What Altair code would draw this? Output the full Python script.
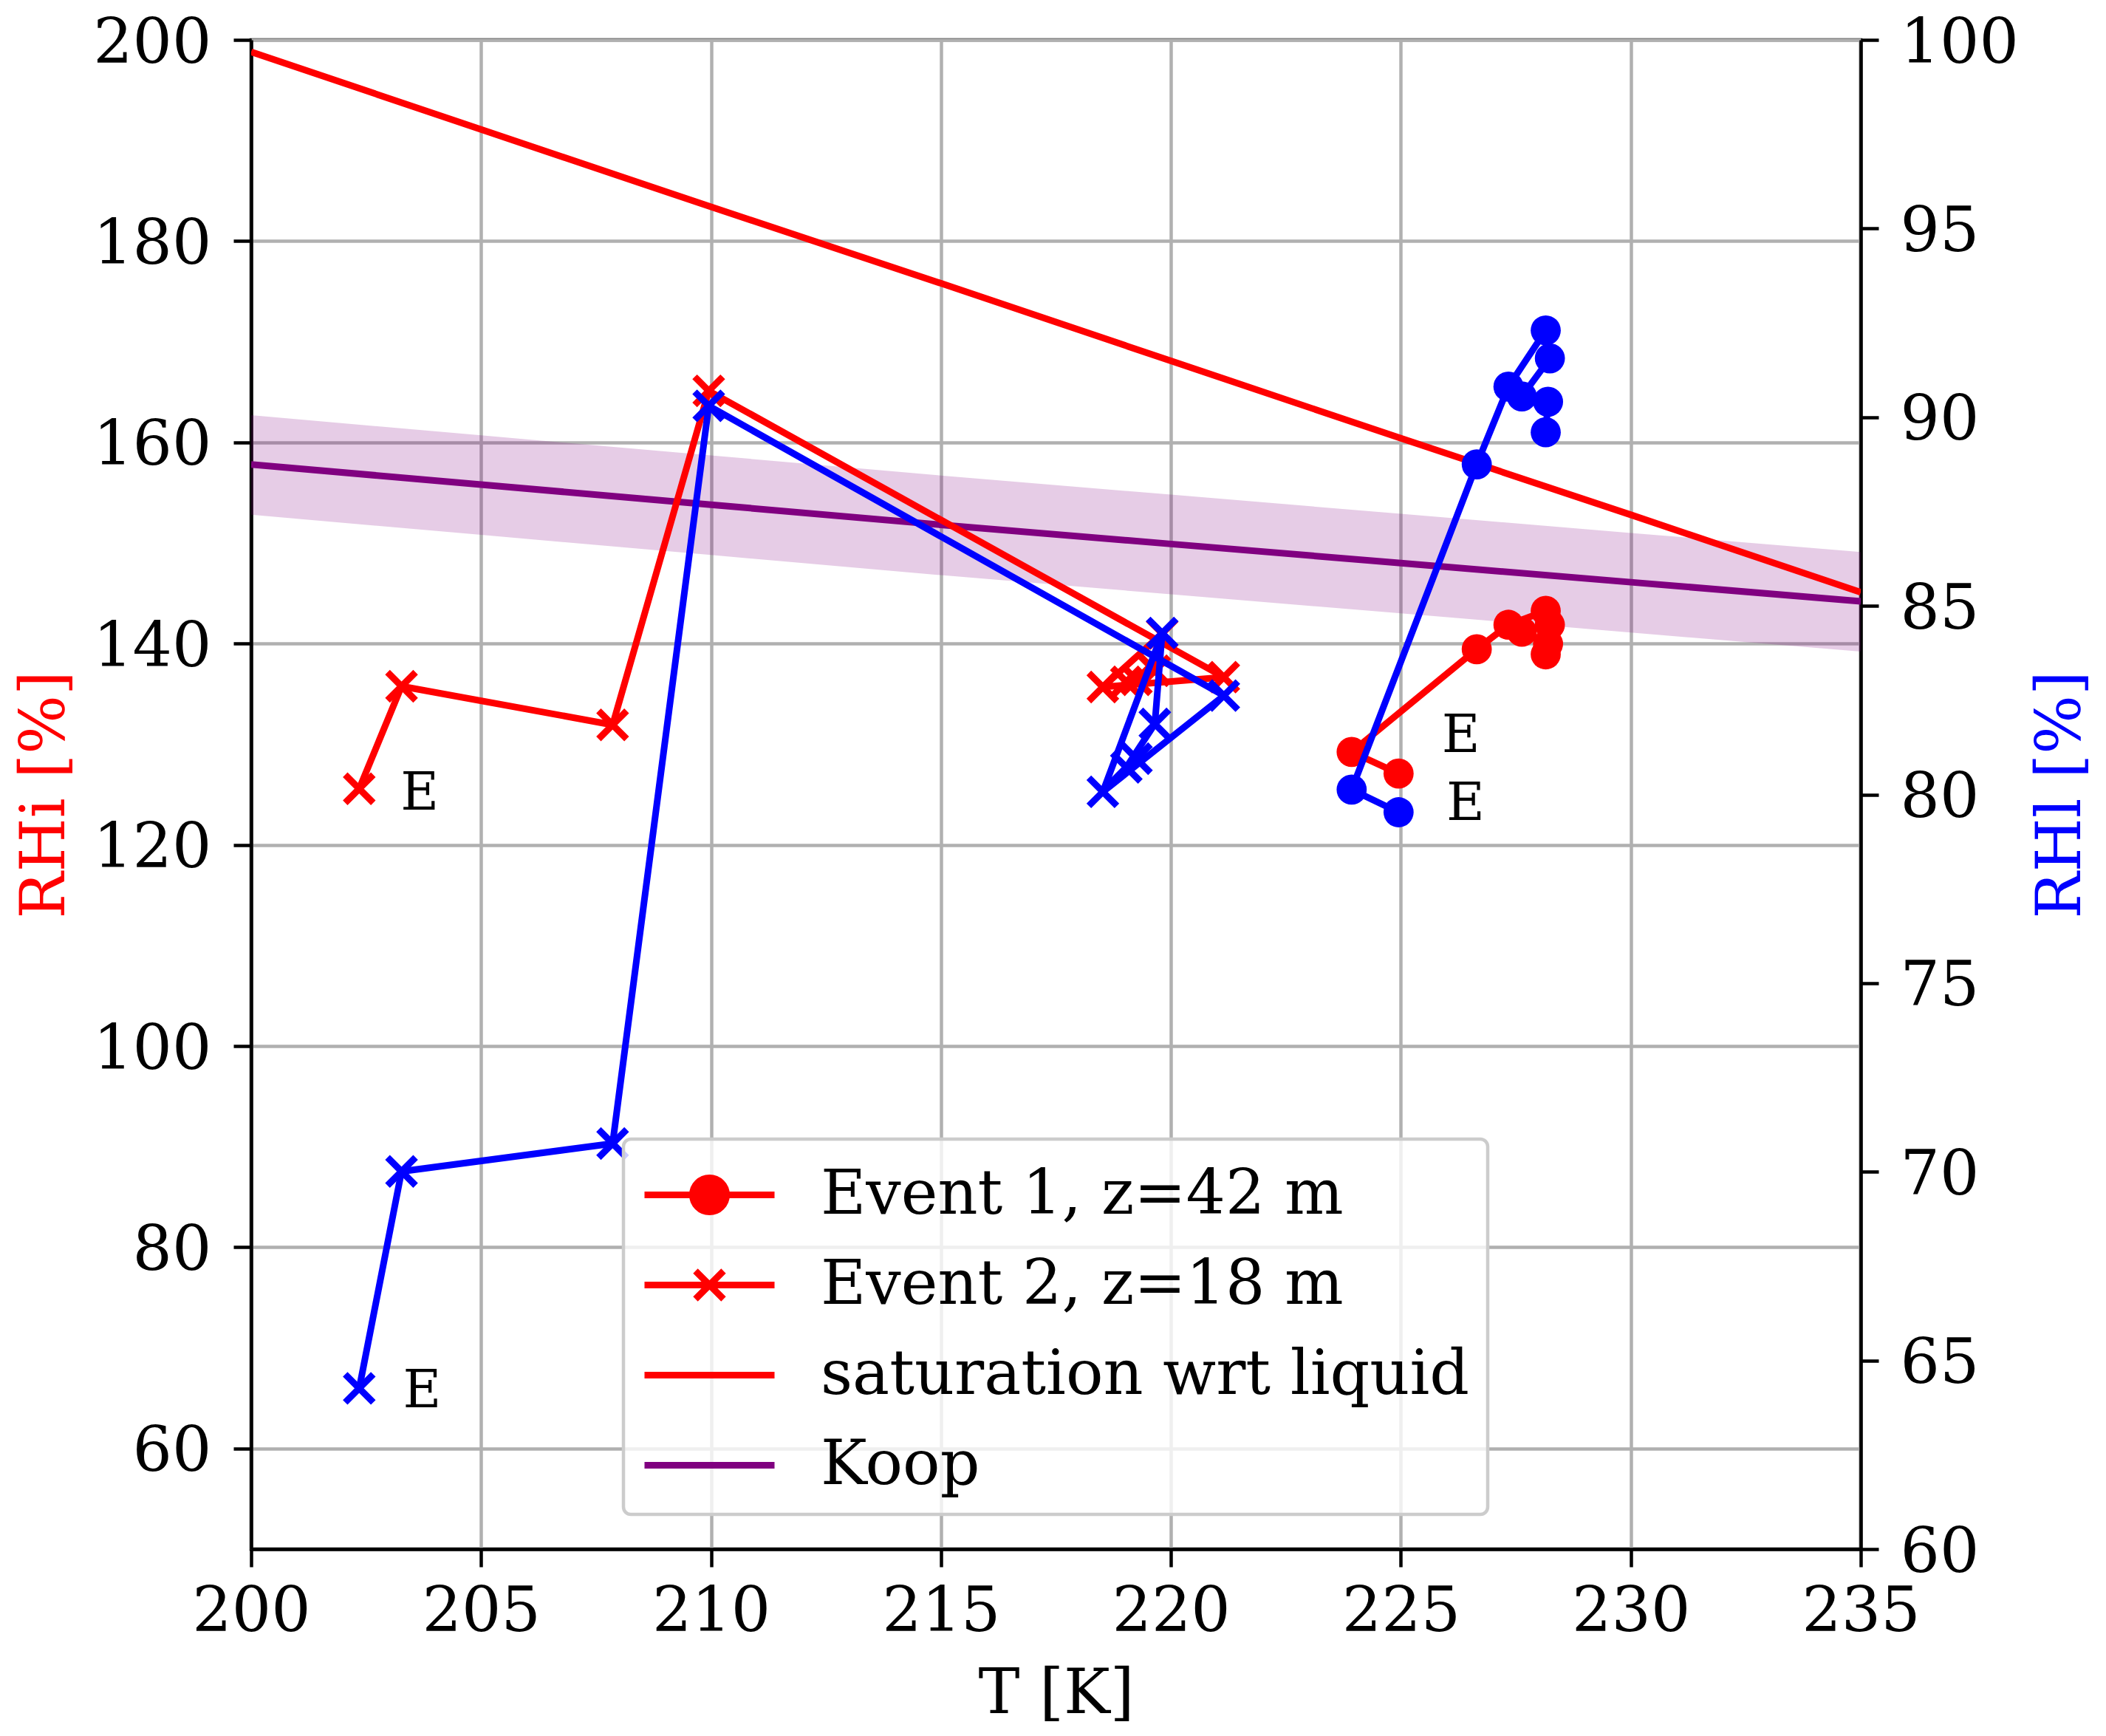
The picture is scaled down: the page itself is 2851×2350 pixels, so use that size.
import altair as alt
import pandas as pd

# ---------------- data ----------------
# Event 1 (z = 42 m), ordered along the path (first point is the one marked "E")
ev1_T = [224.95, 223.93, 226.65, 227.34, 228.15, 228.24, 227.63, 228.20, 228.15]
ev1_RHi = [127.08, 129.23, 139.44, 141.87, 143.25, 141.87, 141.18, 139.97, 138.93]
ev1_RHl = [79.53, 80.13, 88.75, 90.81, 92.30, 91.56, 90.55, 90.41, 89.60]

# Event 2 (z = 18 m)
ev2_T = [202.35, 203.27, 207.86, 209.95, 221.15, 218.52, 219.81, 219.65, 219.03, 219.25]
ev2_RHi = [125.57, 135.76, 131.92, 165.12, 136.66, 135.68, 141.0, 137.3, 136.2, 136.4]
ev2_RHl = [64.26, 70.01, 70.75, 90.30, 82.62, 80.07, 84.28, 81.87, 80.72, 80.95]

# saturation with respect to liquid water (in RHi)
sat_T = [200, 205, 210, 215, 220, 225, 230, 235]
sat_RHi = [198.8, 191.1, 183.4, 175.8, 168.1, 160.4, 152.8, 145.1]

# Koop line with its shaded band
koop_T = [200, 205, 210, 215, 220, 225, 230, 235]
koop_RHi = [157.8, 155.8, 153.8, 151.8, 149.9, 148.0, 146.1, 144.2]
koop_hi = [162.7, 160.7, 158.7, 156.7, 154.8, 152.9, 151.0, 149.1]
koop_lo = [152.8, 150.8, 148.8, 146.8, 144.9, 143.0, 141.1, 139.2]

# "E" annotations
eL_T = [203.25, 225.89]
eL_RHi = [123.5, 129.2]
eR_T = [203.30, 225.99]
eR_RHl = [63.76, 79.33]
e_text = ["E", "E"]

# tick values
x_ticks = [200, 205, 210, 215, 220, 225, 230, 235]
yl_ticks = [60, 80, 100, 120, 140, 160, 180, 200]
yr_ticks = [60, 65, 70, 75, 80, 85, 90, 95, 100]

legend_labels = ["Event 1, z=42 m", "Event 2, z=18 m", "saturation wrt liquid", "Koop"]

# ---------------- styling ----------------
FONT = "DejaVu Serif"
RED = "#ff0000"
BLUE = "#0000ff"
PURPLE = "#800080"
LW = 9
XPATH = "M-1,-1L1,1M-1,1L1,-1"

legend_colors = [RED, RED, RED, PURPLE]
# legend symbol paths (unit = 47 px); line runs from -1 to 2.745, marker centred at 0.872
legend_paths = [
    "M-1,0L2.745,0M1.361,0A0.489,0.489,0,1,1,0.383,0A0.489,0.489,0,1,1,1.361,0Z",
    "M-1,0L2.745,0M0.468,-0.404L1.276,0.404M0.468,0.404L1.276,-0.404",
    "M-1,0L2.745,0",
    "M-1,0L2.745,0",
]

ev1 = pd.DataFrame({"i": range(len(ev1_T)), "T": ev1_T, "RHi": ev1_RHi, "RHl": ev1_RHl})
ev2 = pd.DataFrame({"i": range(len(ev2_T)), "T": ev2_T, "RHi": ev2_RHi, "RHl": ev2_RHl})
sat = pd.DataFrame({"T": sat_T, "RHi": sat_RHi})
koop = pd.DataFrame({"T": koop_T, "RHi": koop_RHi, "lo": koop_lo, "hi": koop_hi})
eL = pd.DataFrame({"T": eL_T, "RHi": eL_RHi, "t": e_text})
eR = pd.DataFrame({"T": eR_T, "RHl": eR_RHl, "t": e_text})
leg = pd.DataFrame({"label": legend_labels, "T": [ev1_T[0]] * 4, "RHi": [ev1_RHi[0]] * 4})

x_enc = alt.X(
    "T:Q",
    scale=alt.Scale(domain=[200, 235], nice=False, zero=False),
    axis=alt.Axis(values=x_ticks, title="T [K]", titleY=221, titleBaseline="alphabetic",
                  labelPadding=20, grid=True, format="d"),
)
yl_scale = alt.Scale(domain=[50, 200], nice=False, zero=False)
yl_axis = alt.Axis(values=yl_ticks, title="RHi [%]", titleColor=RED, orient="left",
                   titleX=-254, titleAngle=270, titleBaseline="alphabetic",
                   grid=True, labelPadding=30, labelBaseline="alphabetic", labelOffset=30, format="d")
yr_scale = alt.Scale(domain=[60, 100], nice=False, zero=False)
yr_axis = alt.Axis(values=yr_ticks, title="RHl [%]", titleColor=BLUE, orient="right",
                   titleX=296, titleAngle=270, titleBaseline="alphabetic",
                   grid=False, labelPadding=29, labelBaseline="alphabetic", labelOffset=30, format="d")

yl = alt.Y("RHi:Q", scale=yl_scale, axis=yl_axis)
yr = alt.Y("RHl:Q", scale=yr_scale, axis=yr_axis)

band = alt.Chart(koop).mark_area(color=PURPLE, opacity=0.2, clip=True).encode(
    x=x_enc, y=alt.Y("lo:Q", scale=yl_scale, axis=yl_axis), y2="hi:Q")
koop_line = alt.Chart(koop).mark_line(color=PURPLE, strokeWidth=LW, clip=True).encode(x=x_enc, y=yl)
sat_line = alt.Chart(sat).mark_line(color=RED, strokeWidth=LW, clip=True).encode(x=x_enc, y=yl)


def path_layers(df, y, color, shape, size, filled):
    line = alt.Chart(df).mark_line(color=color, strokeWidth=LW, strokeJoin="round").encode(
        x=x_enc, y=y, order="i:Q")
    if filled:
        pts = alt.Chart(df).mark_point(shape=shape, filled=True, size=size, color=color, opacity=1).encode(
            x=x_enc, y=y)
    else:
        pts = alt.Chart(df).mark_point(shape=shape, filled=False, size=size, color=color, opacity=1,
                                       strokeWidth=LW).encode(x=x_enc, y=y)
    return [line, pts]


red_layers = path_layers(ev1, yl, RED, "circle", 1662, True) + path_layers(ev2, yl, RED, XPATH, 1444, False)
blue_layers = path_layers(ev1, yr, BLUE, "circle", 1662, True) + path_layers(ev2, yr, BLUE, XPATH, 1444, False)

eL_text = alt.Chart(eL).mark_text(font=FONT, fontSize=71, color="black", align="left",
                                  baseline="alphabetic").encode(x=x_enc, y=yl, text="t:N")
eR_text = alt.Chart(eR).mark_text(font=FONT, fontSize=71, color="black", align="left",
                                  baseline="alphabetic").encode(x=x_enc, y=yr, text="t:N")

legend_def = alt.Legend(title=None, orient="none", legendX=504, legendY=1488, symbolOpacity=1)
legend_layer = alt.Chart(leg).mark_point(opacity=0, strokeWidth=LW).encode(
    x=x_enc, y=yl,
    shape=alt.Shape("label:N", scale=alt.Scale(domain=legend_labels, range=legend_paths), legend=legend_def),
    fill=alt.Fill("label:N", scale=alt.Scale(domain=legend_labels, range=legend_colors), legend=legend_def),
    stroke=alt.Stroke("label:N", scale=alt.Scale(domain=legend_labels, range=legend_colors), legend=legend_def),
)

left = alt.layer(band, koop_line, sat_line, *red_layers, eL_text, legend_layer)
right = alt.layer(*blue_layers, eR_text)

chart = alt.layer(left, right).resolve_scale(y="independent").properties(
    width=2179, height=2043,
    autosize=alt.AutoSizeParams(type="none"),
    padding={"left": 332, "top": 46, "right": 324, "bottom": 245},
).configure_axis(
    labelFont=FONT, titleFont=FONT, labelFontSize=84, titleFontSize=84, titleFontWeight="normal",
    labelColor="black", domainColor="black", domainWidth=4.5, tickColor="black", tickWidth=4.5,
    tickSize=24, gridColor="#b0b0b0", gridWidth=4.5, gridOpacity=1, labelFlush=False, labelOverlap=False,
).configure_view(stroke="black", strokeWidth=4.5).configure_legend(
    labelFont=FONT, labelFontSize=84, labelColor="black", labelLimit=3000,
    symbolSize=8836, symbolStrokeWidth=LW, padding=24, rowPadding=28, labelOffset=140,
    fillColor="rgba(255,255,255,0.8)", strokeColor="#cccccc", strokeWidth=4.5, cornerRadius=10,
)

chart.save("out.html", embed_options={"renderer": "svg", "actions": False})
